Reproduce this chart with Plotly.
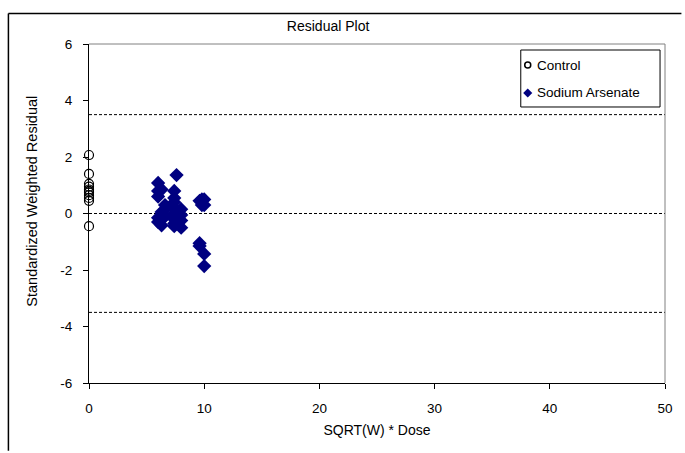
import plotly.graph_objects as go

# Control group residuals (dose = 0)
control_x = [0] * 11
control_y = [2.07, 1.40, 1.05, 0.95, 0.85, 0.80, 0.75, 0.65, 0.55, 0.45, -0.45]

# Sodium Arsenate residuals against SQRT(W) * Dose
arsenate_x = [6.0, 6.0, 6.0, 6.0, 6.0,
              6.3, 6.3, 6.3, 6.3,
              6.6, 6.6, 6.6,
              7.4, 7.4, 7.4, 7.4, 7.4, 7.4, 7.4, 7.4,
              7.6, 7.6, 7.6, 7.6,
              8.0, 8.0, 8.0, 8.0,
              9.6, 9.6, 9.6,
              9.8, 9.8,
              10.0, 10.0, 10.0, 10.0]
arsenate_y = [1.08, 0.80, 0.60, -0.15, -0.30,
              0.85, 0.05, -0.20, -0.42,
              0.30, 0.15, -0.10,
              0.80, 0.55, 0.40, 0.20, 0.00, -0.20, -0.35, -0.45,
              1.36, 0.10, -0.10, -0.30,
              0.15, -0.05, -0.25, -0.50,
              0.45, -1.05, -1.15,
              0.50, 0.30,
              0.50, 0.30, -1.43, -1.86]

ref_lines = [3.5, 0.0, -3.5]

x_ticks = [0, 10, 20, 30, 40, 50]
y_ticks = [-6, -4, -2, 0, 2, 4, 6]
y_ticktext = [str(v) for v in y_ticks]  # plain hyphen minus

series_names = ["Control", "Sodium Arsenate"]

FONT = "Liberation Sans, Arial, sans-serif"
NAVY = "#000080"

control_marker = dict(symbol="circle-open", size=9, color="black", line=dict(width=1.2, color="black"))
arsenate_marker = dict(symbol="diamond", size=11, color=NAVY)

fig = go.Figure()

fig.add_trace(go.Scatter(x=control_x, y=control_y, mode="markers", name=series_names[0],
                         marker=control_marker, cliponaxis=False, showlegend=False))
fig.add_trace(go.Scatter(x=arsenate_x, y=arsenate_y, mode="markers", name=series_names[1],
                         marker=arsenate_marker, cliponaxis=False, showlegend=False))

# Legend box: key markers on an overlay axis spanning the plot area in [0, 1]
leg_x0, leg_x1, leg_y0, leg_y1 = 0.7496, 0.9914, 0.8142, 0.9823
key_x, text_x = 0.7617, 0.7745
key_y = [0.938, 0.8555]
fig.add_trace(go.Scatter(x=[key_x], y=[key_y[0]], xaxis="x2", yaxis="y2", mode="markers",
                         marker=dict(symbol="circle-open", size=6, color="black", line=dict(width=1.5)),
                         showlegend=False, hoverinfo="skip", cliponaxis=False))
fig.add_trace(go.Scatter(x=[key_x], y=[key_y[1]], xaxis="x2", yaxis="y2", mode="markers",
                         marker=dict(symbol="diamond", size=7, color=NAVY),
                         showlegend=False, hoverinfo="skip", cliponaxis=False))

annotations = [
    dict(xref="paper", yref="paper", x=text_x, y=yy, text=name, showarrow=False,
         xanchor="left", yanchor="middle", font=dict(family=FONT, size=13.5, color="black"))
    for name, yy in zip(series_names, key_y)
]
# y-axis title
annotations.append(dict(xref="paper", yref="paper", x=-0.0995, y=0.537, xanchor="center",
                        yanchor="middle", textangle=-90, showarrow=False,
                        text="Standardized Weighted Residual",
                        font=dict(family=FONT, size=14.5, color="black")))

shapes = []
for yv in ref_lines:
    shapes.append(dict(type="line", xref="paper", x0=0, x1=1, yref="y", y0=yv, y1=yv,
                       line=dict(color="black", width=1, dash="3px,2px"), layer="below"))
# plot area outline (top/right in gray)
shapes.append(dict(type="line", xref="paper", yref="paper", x0=0, x1=1, y0=1, y1=1,
                   line=dict(color="#808080", width=1)))
shapes.append(dict(type="line", xref="paper", yref="paper", x0=1, x1=1, y0=0, y1=1,
                   line=dict(color="#808080", width=1)))
# legend frame
shapes.append(dict(type="rect", xref="paper", yref="paper", x0=leg_x0, x1=leg_x1, y0=leg_y0, y1=leg_y1,
                   line=dict(color="black", width=1), fillcolor="white", layer="below"))
# chart frame (top and left edges)
frame_left, frame_top = -0.1399, 1.09
shapes.append(dict(type="line", xref="paper", yref="paper", x0=frame_left, x1=1.0285,
                   y0=frame_top, y1=frame_top, line=dict(color="black", width=1.5)))
shapes.append(dict(type="line", xref="paper", yref="paper", x0=frame_left, x1=frame_left,
                   y0=-0.2, y1=frame_top, line=dict(color="black", width=1.5)))

fig.update_layout(
    width=685, height=453,
    margin=dict(l=89, r=17, t=44, b=70),
    paper_bgcolor="white", plot_bgcolor="white",
    font=dict(family=FONT, size=13, color="black"),
    title=dict(text="Residual Plot", x=0.479, xanchor="center", y=0.9426, yanchor="middle",
               font=dict(family=FONT, size=14, color="black")),
    shapes=shapes,
    annotations=annotations,
    showlegend=False,
    xaxis=dict(range=[0, 50], tickvals=x_ticks, showgrid=False, zeroline=False,
               showline=True, linecolor="black", linewidth=1, ticks="outside", ticklen=5,
               tickcolor="black", tickfont=dict(size=13.5), ticklabelstandoff=8,
               title=dict(text="SQRT(W) * Dose", font=dict(size=14), standoff=9)),
    yaxis=dict(range=[-6, 6], tickvals=y_ticks, ticktext=y_ticktext, showgrid=False, zeroline=False,
               showline=True, linecolor="black", linewidth=1, ticks="outside", ticklen=5,
               tickcolor="black", tickfont=dict(size=13.5), ticklabelstandoff=8),
    xaxis2=dict(range=[0, 1], overlaying="x", visible=False, fixedrange=True),
    yaxis2=dict(range=[0, 1], overlaying="y", visible=False, fixedrange=True),
)

fig.write_html("out.html")
